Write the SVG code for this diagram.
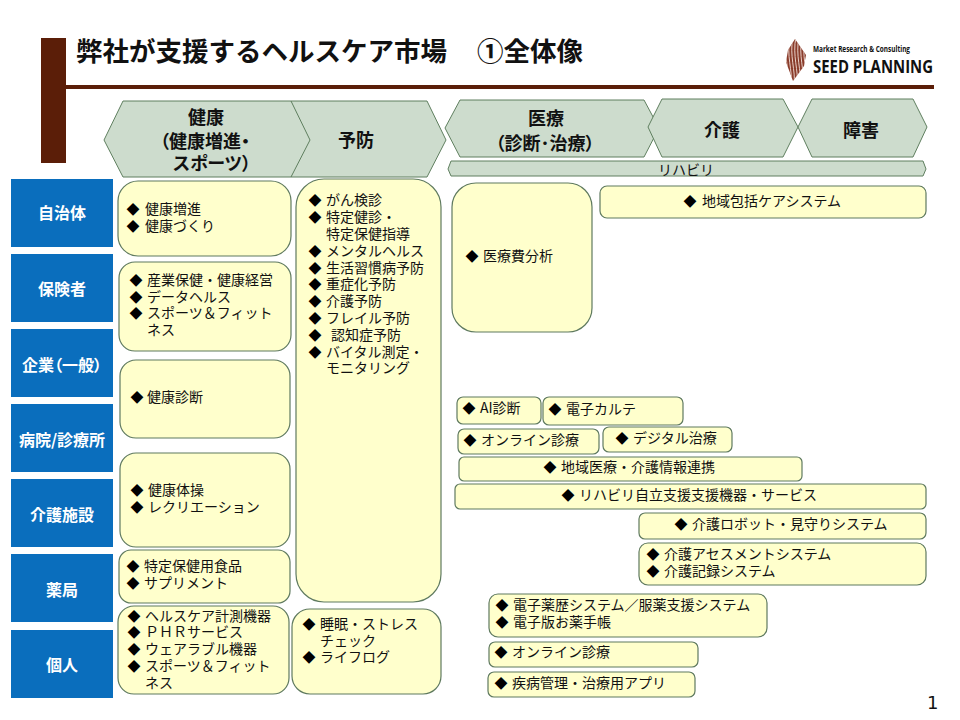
<svg xmlns="http://www.w3.org/2000/svg" width="960" height="720" viewBox="0 0 960 720">
<style>
text{font-family:"Noto Sans CJK JP","Noto Sans",sans-serif;fill:#111}
.h{fill:#cddccd;stroke:#5f7f5f;stroke-width:1}
.b{fill:#ffffcc;stroke:#5f7a5f;stroke-width:1.2}
.s{fill:#0a6ebd}
.l{font-size:16px;font-weight:700;fill:#fff;text-anchor:middle;font-feature-settings:"palt"}
.t{font-size:18px;font-weight:700;text-anchor:middle;font-feature-settings:"palt"}
.i{font-size:14px}
.d{font-size:13px;text-anchor:middle;fill:#000}
.lg{font-family:"Open Sans",sans-serif;font-weight:700}
</style>
<defs>
<clipPath id="mark"><path d="M795 39L806 55L804 66L793 81L786 62L788 50Z"/></clipPath>
</defs>
<rect width="960" height="720" fill="#fff"/>
<g id="header">
<rect x="41" y="38" width="25" height="125" fill="#5b1e08"/>
<rect x="66" y="85" width="868" height="4" fill="#5b1e08"/>
<text x="76" y="61" font-size="26.5" font-weight="700" fill="#000">弊社が支援するヘルスケア市場</text>
<text x="477" y="61" font-size="26.5" font-weight="700" fill="#000">①全体像</text>
</g>
<g id="logo">
<g clip-path="url(#mark)">
<rect x="785" y="38" width="22" height="44" fill="#8a3d2c"/>
<path d="M787 37C783 55 790 72 788 84M790 37C786 55 793 72 791 84M793 37C789 55 796 72 794 84M796 37C792 55 799 72 797 84M799 37C795 55 802 72 800 84M802 37C798 55 805 72 803 84M805 37C801 55 808 72 806 84" fill="none" stroke="#e8d0c8" stroke-width="1"/>
</g>
<text class="lg" x="813" y="52" font-size="9" fill="#6a3a30" textLength="97" lengthAdjust="spacingAndGlyphs">Market Research &amp; Consulting</text>
<text class="lg" x="813" y="73" font-size="18.5" fill="#4f1a0c" textLength="120" lengthAdjust="spacingAndGlyphs">SEED PLANNING</text>
</g>
<g id="cat-prevent"><polygon class="h" points="291,101 427,101 446,140 427,177 291,177"/><text class="t" x="356" y="147">予防</text></g>
<g id="cat-health"><polygon class="h" points="104,140 123,101 291,101 310,140 291,177 123,177"/><text class="t" x="206" y="124">健康</text><text class="t" x="205" y="148">（健康増進・</text><text class="t" x="212" y="170">スポーツ）</text></g>
<g id="cat-medical"><polygon class="h" points="445,128 460,100 644,100 659,128 644,157 460,157"/><text class="t" x="546" y="125">医療</text><text class="t" x="545" y="150">（診断･治療）</text></g>
<g id="cat-care"><polygon class="h" points="648,127 662,99 783,99 798,127 783,157 662,157"/><text class="t" x="722" y="137">介護</text></g>
<g id="cat-disability"><polygon class="h" points="798,127 812,99 913,99 927,127 913,157 812,157"/><text class="t" x="861" y="137">障害</text></g>
<g id="cat-rehab"><polygon class="h" points="448,169 451,161 923,161 926,169 923,176 451,176"/><text x="686" y="175" font-size="14" text-anchor="middle">リハビリ</text></g>
<g id="row-municipal"><rect class="s" x="11" y="179" width="102" height="68"/><text class="l" x="62" y="219">自治体</text></g>
<g id="row-insurer"><rect class="s" x="11" y="254" width="102" height="68"/><text class="l" x="62" y="295">保険者</text></g>
<g id="row-company"><rect class="s" x="11" y="329" width="102" height="68"/><text class="l" x="62" y="371">企業（一般）</text></g>
<g id="row-hospital"><rect class="s" x="11" y="404" width="102" height="68"/><text class="l" x="62" y="446">病院/診療所</text></g>
<g id="row-care"><rect class="s" x="11" y="479" width="102" height="68"/><text class="l" x="62" y="521">介護施設</text></g>
<g id="row-pharmacy"><rect class="s" x="11" y="554" width="102" height="68"/><text class="l" x="62" y="596">薬局</text></g>
<g id="row-person"><rect class="s" x="11" y="630" width="102" height="68"/><text class="l" x="62" y="671">個人</text></g>
<g id="b1"><rect class="b" x="118" y="181" width="173" height="75" rx="20"/><text class="d" x="133" y="214">◆</text><text class="i" x="145" y="214">健康増進</text><text class="d" x="133" y="231">◆</text><text class="i" x="145" y="231">健康づくり</text></g>
<g id="b2"><rect class="b" x="119" y="262" width="172" height="89" rx="16"/><text class="d" x="136" y="285">◆</text><text class="i" x="147" y="285">産業保健・健康経営</text><text class="d" x="136" y="302">◆</text><text class="i" x="147" y="302">データヘルス</text><text class="d" x="136" y="318">◆</text><text class="i" x="147" y="318">スポーツ＆フィット</text><text class="i" x="147" y="335">ネス</text></g>
<g id="b3"><rect class="b" x="120" y="360" width="170" height="78" rx="16"/><text class="d" x="137" y="402">◆</text><text class="i" x="147" y="402">健康診断</text></g>
<g id="b4"><rect class="b" x="120" y="453" width="170" height="94" rx="16"/><text class="d" x="137" y="495">◆</text><text class="i" x="148" y="495">健康体操</text><text class="d" x="137" y="512">◆</text><text class="i" x="148" y="512">レクリエーション</text></g>
<g id="b5"><rect class="b" x="119" y="550" width="171" height="53" rx="12"/><text class="d" x="133" y="571">◆</text><text class="i" x="144" y="571">特定保健用食品</text><text class="d" x="133" y="588">◆</text><text class="i" x="144" y="588">サプリメント</text></g>
<g id="b6"><rect class="b" x="118" y="606" width="171" height="88" rx="16"/><text class="d" x="134" y="621">◆</text><text class="i" x="145" y="621">ヘルスケア計測機器</text><text class="d" x="134" y="637">◆</text><text class="i" x="145" y="637">ＰＨＲサービス</text><text class="d" x="134" y="654">◆</text><text class="i" x="145" y="654">ウェアラブル機器</text><text class="d" x="134" y="671">◆</text><text class="i" x="145" y="671">スポーツ＆フィット</text><text class="i" x="145" y="688">ネス</text></g>
<g id="b7"><rect class="b" x="296" y="179" width="145" height="423" rx="28"/>
<text class="d" x="315" y="205">◆</text><text class="i" x="326" y="205">がん検診</text>
<text class="d" x="315" y="222">◆</text><text class="i" x="326" y="222">特定健診・</text>
<text class="i" x="326" y="239">特定保健指導</text>
<text class="d" x="315" y="256">◆</text><text class="i" x="326" y="256">メンタルヘルス</text>
<text class="d" x="315" y="273">◆</text><text class="i" x="326" y="273">生活習慣病予防</text>
<text class="d" x="315" y="289">◆</text><text class="i" x="326" y="289">重症化予防</text>
<text class="d" x="315" y="306">◆</text><text class="i" x="326" y="306">介護予防</text>
<text class="d" x="315" y="323">◆</text><text class="i" x="326" y="323">フレイル予防</text>
<text class="d" x="315" y="340">◆</text><text class="i" x="331" y="340">認知症予防</text>
<text class="d" x="315" y="357">◆</text><text class="i" x="326" y="357">バイタル測定・</text>
<text class="i" x="326" y="373">モニタリング</text></g>
<g id="b8"><rect class="b" x="292" y="609" width="149" height="85" rx="18"/><text class="d" x="309" y="629">◆</text><text class="i" x="320" y="629">睡眠・ストレス</text><text class="i" x="320" y="646">チェック</text><text class="d" x="309" y="662">◆</text><text class="i" x="320" y="662">ライフログ</text></g>
<g id="b9"><rect class="b" x="452" y="183" width="140" height="149" rx="24"/><text class="d" x="472" y="261">◆</text><text class="i" x="483" y="261">医療費分析</text></g>
<g id="b10"><rect class="b" x="600" y="186" width="326" height="32" rx="7"/><text class="d" x="690" y="206">◆</text><text class="i" x="702" y="206">地域包括ケアシステム</text></g>
<g id="b11"><rect class="b" x="457" y="397" width="84" height="27" rx="6"/><text class="d" x="469" y="413">◆</text><text class="i" x="480" y="413">AI診断</text></g>
<g id="b12"><rect class="b" x="543" y="397" width="140" height="28" rx="6"/><text class="d" x="555" y="414">◆</text><text class="i" x="566" y="414">電子カルテ</text></g>
<g id="b13"><rect class="b" x="458" y="429" width="141" height="25" rx="6"/><text class="d" x="470" y="445">◆</text><text class="i" x="481" y="445">オンライン診療</text></g>
<g id="b14"><rect class="b" x="603" y="427" width="129" height="25" rx="6"/><text class="d" x="622" y="443">◆</text><text class="i" x="633" y="443">デジタル治療</text></g>
<g id="b15"><rect class="b" x="459" y="457" width="343" height="24" rx="5"/><text class="d" x="550" y="472">◆</text><text class="i" x="561" y="472">地域医療・介護情報連携</text></g>
<g id="b16"><rect class="b" x="455" y="484" width="471" height="25" rx="5"/><text class="d" x="568" y="500">◆</text><text class="i" x="579" y="500">リハビリ自立支援支援機器・サービス</text></g>
<g id="b17"><rect class="b" x="639" y="513" width="287" height="26" rx="6"/><text class="d" x="681" y="529">◆</text><text class="i" x="692" y="529">介護ロボット・見守りシステム</text></g>
<g id="b18"><rect class="b" x="639" y="543" width="287" height="42" rx="9"/><text class="d" x="653" y="559">◆</text><text class="i" x="664" y="559">介護アセスメントシステム</text><text class="d" x="653" y="576">◆</text><text class="i" x="664" y="576">介護記録システム</text></g>
<g id="b19"><rect class="b" x="489" y="594" width="278" height="43" rx="9"/><text class="d" x="502" y="610">◆</text><text class="i" x="513" y="610">電子薬歴システム／服薬支援システム</text><text class="d" x="502" y="627">◆</text><text class="i" x="513" y="627">電子版お薬手帳</text></g>
<g id="b20"><rect class="b" x="489" y="642" width="209" height="25" rx="6"/><text class="d" x="501" y="657">◆</text><text class="i" x="512" y="657">オンライン診療</text></g>
<g id="b21"><rect class="b" x="488" y="672" width="207" height="25" rx="6"/><text class="d" x="501" y="688">◆</text><text class="i" x="512" y="688">疾病管理・治療用アプリ</text></g>
<text x="927" y="709" font-size="18" fill="#222" style="font-family:'DejaVu Sans',sans-serif">1</text>
<g id="connectors"/>
</svg>
